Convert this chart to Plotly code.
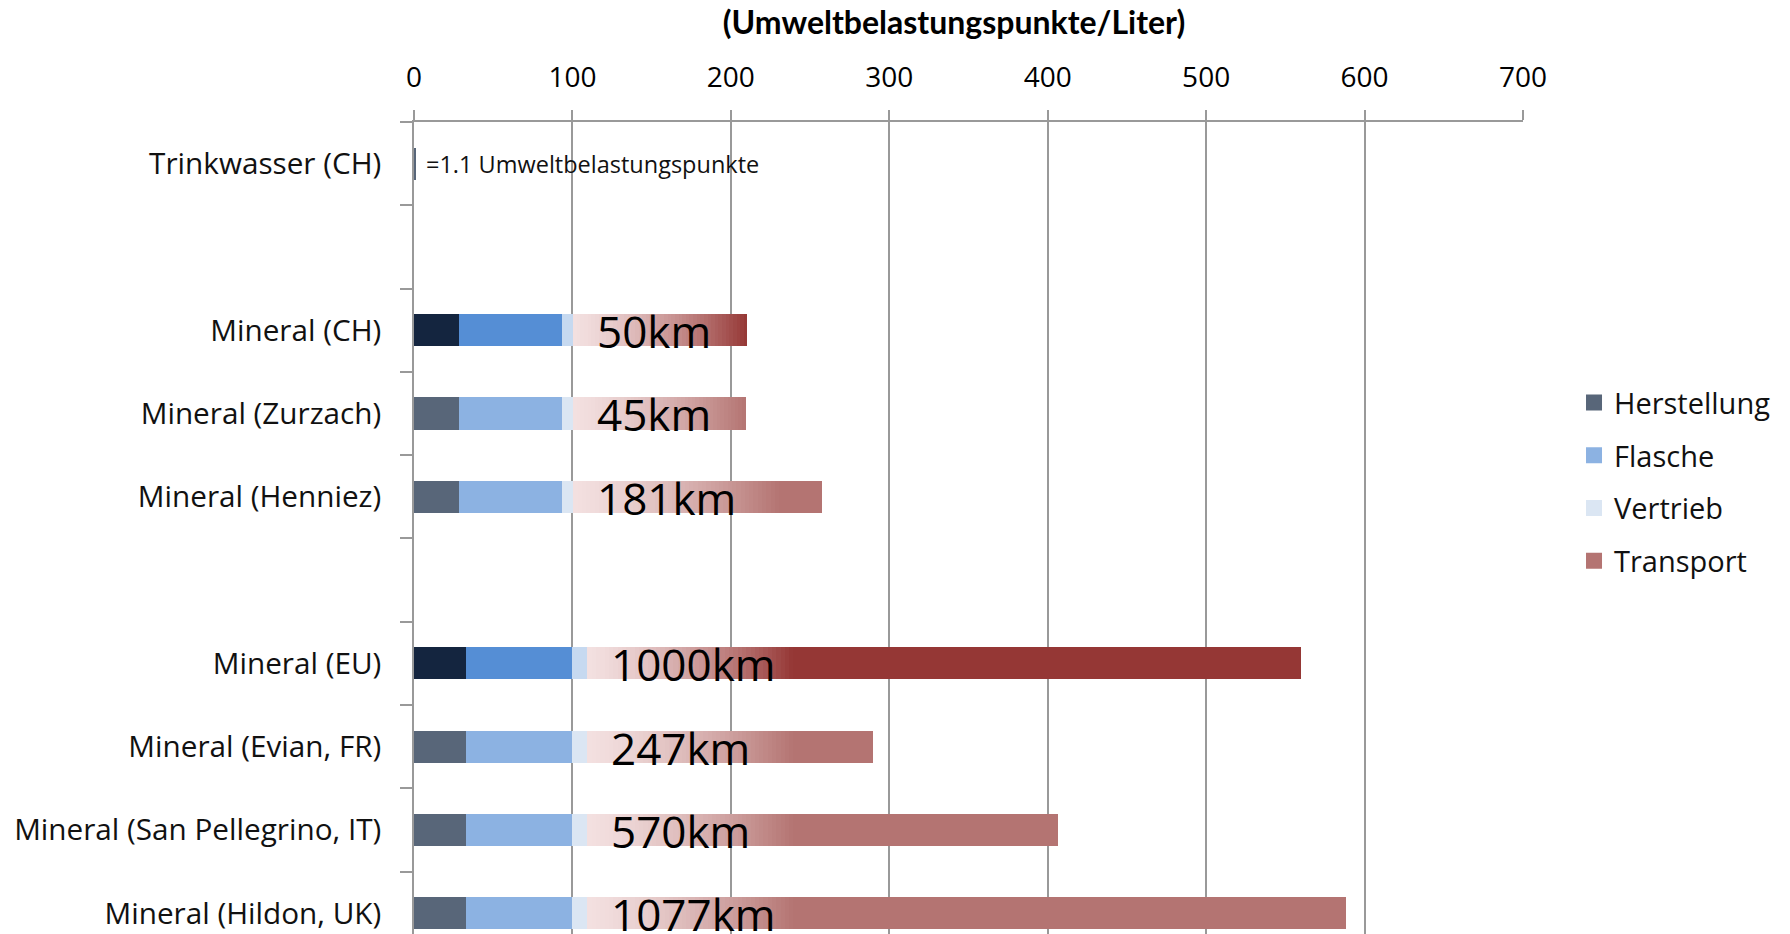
import plotly.graph_objects as go

# ---------------- data ----------------
categories = ["Trinkwasser (CH)", " ", "Mineral (CH)", "Mineral (Zurzach)", "Mineral (Henniez)",
              "  ", "Mineral (EU)", "Mineral (Evian, FR)", "Mineral (San Pellegrino, IT)",
              "Mineral (Hildon, UK)"]
herstellung = [1.1, None, 28.4, 28.4, 28.4, None, 33.1, 33.1, 33.1, 33.1]
flasche = [0, None, 65.3, 65.3, 65.3, None, 66.7, 66.7, 66.7, 66.7]
vertrieb = [0, None, 6.8, 6.8, 6.8, None, 9.7, 9.7, 9.7, 9.7]
transport = [0, None, 110.0, 108.8, 157.2, None, 450.5, 180.5, 297.0, 478.6]
km_labels = ["", "", "50km", "45km", "181km", "", "1000km", "247km", "570km", "1077km"]
highlight = [False, False, True, False, False, False, True, False, False, False]
x_ticks = [0, 100, 200, 300, 400, 500, 600, 700]
series_names = ["Herstellung", "Flasche", "Vertrieb", "Transport"]
trinkwasser_note = "=1.1 Umweltbelastungspunkte"
axis_title = "(Umweltbelastungspunkte/Liter)"

# ---------------- styles ----------------
normal_colors = {"Herstellung": "#586679", "Flasche": "#8cb2e2", "Vertrieb": "#dbe6f3", "Transport": "#b47472"}
hi_colors = {"Herstellung": "#14253f", "Flasche": "#558ed5", "Vertrieb": "#c6d9f0", "Transport": "#953735"}
grad_start = (243, 224, 224)
GRAD_LEN = 130
GAMMA = 1.4
N_SLICES = 48
FONT = "Open Sans"
GRID = "#999999"


def hex_rgb(h):
    h = h.lstrip("#")
    return tuple(int(h[i:i + 2], 16) for i in (0, 2, 4))


def lerp(c0, c1, t):
    return "rgb(%d,%d,%d)" % tuple(round(a + (b - a) * t) for a, b in zip(c0, c1))


def colors_for(name):
    return [hi_colors[name] if h else normal_colors[name] for h in highlight]


fig = go.Figure()
bar_kw = dict(orientation="h", showlegend=False, hoverinfo="skip", marker_line_width=0)

for name, vals in [("Herstellung", herstellung), ("Flasche", flasche), ("Vertrieb", vertrieb)]:
    fig.add_trace(go.Bar(y=categories, x=vals, name=name, marker_color=colors_for(name), **bar_kw))

# Transport: gradient slices followed by solid remainder
for k in range(N_SLICES):
    t = ((k + 0.5) / N_SLICES) ** GAMMA
    xs, cs = [], []
    for i, T in enumerate(transport):
        if T is None:
            xs.append(None)
            cs.append("white")
            continue
        g = min(T, GRAD_LEN)
        xs.append(g / N_SLICES)
        end = hex_rgb(hi_colors["Transport"] if highlight[i] else normal_colors["Transport"])
        cs.append(lerp(grad_start, end, t))
    fig.add_trace(go.Bar(y=categories, x=xs, name="Transport", marker_color=cs, **bar_kw))

remainder = [None if T is None else max(T - GRAD_LEN, 0) for T in transport]
fig.add_trace(go.Bar(y=categories, x=remainder, name="Transport", marker_color=colors_for("Transport"), **bar_kw))

# legend entries (square swatches)
for i, name in enumerate(series_names):
    fig.add_trace(go.Scatter(x=[None], y=[None], mode="markers", name=name, legendgroup=name,
                             marker=dict(symbol="square", size=20, color=normal_colors[name]),
                             showlegend=True, hoverinfo="skip"))

# km annotations
for i, lab in enumerate(km_labels):
    if not lab:
        continue
    start = herstellung[i] + flasche[i] + vertrieb[i]
    fig.add_annotation(x=start + 13.8, y=categories[i], text=lab, showarrow=False,
                       xanchor="left", yanchor="middle", yshift=-1,
                       font=dict(family=FONT, size=44, color="black"))

fig.add_annotation(x=herstellung[0] + 5.5, y=categories[0], text=trinkwasser_note, showarrow=False,
                   xanchor="left", yanchor="middle", font=dict(family=FONT, size=23.5, color="#111111"))

fig.update_layout(
    width=1790, height=934,
    margin=dict(l=414, r=267, t=122, b=0, pad=0),
    paper_bgcolor="white", plot_bgcolor="white",
    barmode="stack", bargap=0.615,
    title=dict(text=axis_title, x=954 / 1790, xanchor="center", y=1 - 23 / 934, yanchor="middle",
               xref="container", yref="container",
               font=dict(family="Lato", size=32, color="black", weight="bold")),
    legend=dict(x=1.046, xanchor="left", y=0.557, yanchor="middle",
                font=dict(family=FONT, size=29, color="#111111"),
                tracegroupgap=12, bgcolor="rgba(0,0,0,0)"),
    xaxis=dict(side="top", range=[0, 700], tickvals=x_ticks, ticks="outside", ticklen=10,
               tickcolor=GRID, tickwidth=1.5, showline=True, linecolor=GRID, linewidth=1.5,
               showgrid=True, gridcolor=GRID, gridwidth=1.5, zeroline=False, automargin=False,
               tickfont=dict(family=FONT, size=28, color="black"), ticklabelstandoff=12),
    yaxis=dict(categoryorder="array", categoryarray=categories, range=[9.25, -0.5],
               tickson="boundaries", ticks="outside", ticklen=12, tickcolor=GRID, tickwidth=1.5,
               showline=True, linecolor=GRID, linewidth=1.5, showgrid=False, zeroline=False,
               automargin=False,
               tickfont=dict(family=FONT, size=29.7, color="#111111"), ticklabelstandoff=25),
)

fig.write_html("out.html", config={"displayModeBar": False},
               post_script="document.body.style.margin='0px';document.body.style.overflow='hidden';")
